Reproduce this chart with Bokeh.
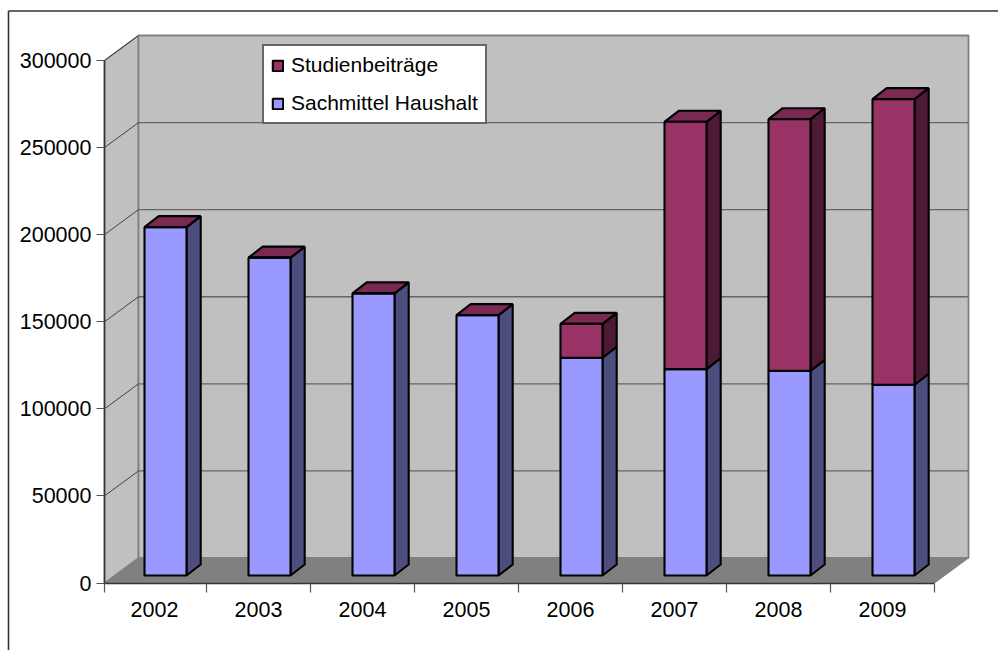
from bokeh.embed import file_html
from bokeh.models import (BasicTickFormatter, FixedTicker, Legend, LegendItem, LinearAxis,
                          Range1d)
from bokeh.plotting import figure
from bokeh.resources import INLINE

years = [2002, 2003, 2004, 2005, 2006, 2007, 2008, 2009]
sachmittel = [200000, 182500, 162000, 149500, 125000, 118500, 117500, 109500]
studienbeitraege = [0, 0, 0, 0, 19500, 142000, 144500, 164000]
value_ticks = [0, 50000, 100000, 150000, 200000, 250000, 300000]

WIDTH, HEIGHT = 998, 650
PX_PER_YEAR = 104.0
PX_PER_VALUE = 522.5 / 300000
YEAR_ORIGIN_PX = 154.0
ZERO_PX = 582.5


def year_at(px):
    return 2002 + (px - YEAR_ORIGIN_PX) / PX_PER_YEAR


def value_at(py):
    return (ZERO_PX - py) / PX_PER_VALUE


def dyear(px):
    return px / PX_PER_YEAR


def dvalue(py):
    return py / PX_PER_VALUE


p = figure(
    width=WIDTH, height=HEIGHT, output_backend="svg", toolbar_location=None,
    x_range=Range1d(year_at(0), year_at(WIDTH)),
    y_range=Range1d(value_at(HEIGHT), value_at(0)),
    x_axis_location=None, y_axis_location=None, min_border=0,
    background_fill_color="white", border_fill_color="white",
)
p.grid.visible = False
p.outline_line_color = None

# 3D walls and floor
x_front_l, x_front_r = year_at(104), year_at(934)
wall_dx, wall_dy = dyear(34), dvalue(25)
top = value_ticks[-1]
p.patch([x_front_l, x_front_l + wall_dx, x_front_l + wall_dx, x_front_l],
        [0, wall_dy, top + wall_dy, top],
        fill_color="#C0C0C0", line_color="#808080", line_width=1.5)
p.quad(left=x_front_l + wall_dx, right=x_front_r + wall_dx, bottom=wall_dy, top=top + wall_dy,
       fill_color="#C0C0C0", line_color="#808080", line_width=1.8)
p.patch([x_front_l, x_front_r, x_front_r + wall_dx, x_front_l + wall_dx],
        [0, 0, wall_dy, wall_dy],
        fill_color="#808080", line_color="#808080", line_width=1)

# Gridlines: along the back wall, then diagonally down the side wall
inner = value_ticks[1:-1]
p.segment(x0=[x_front_l + wall_dx] * len(inner), x1=[x_front_r + wall_dx] * len(inner),
          y0=[v + wall_dy for v in inner], y1=[v + wall_dy for v in inner],
          line_color="#666666", line_width=1.3)
diag = value_ticks[1:]
p.segment(x0=[x_front_l] * len(diag), x1=[x_front_l + wall_dx] * len(diag),
          y0=diag, y1=[v + wall_dy for v in diag],
          line_color="#333333", line_width=0.9)

# Bars: the front face sits a little way into the floor
BAR_SHIFT, BAR_W = dyear(11), dyear(42)
DEPTH_X, DEPTH_Y = dyear(14.2), dvalue(11)
FRONT_Y = dvalue(7.5)
OUTLINE = dict(line_color="black", line_width=2.1)

lefts = [y + BAR_SHIFT - BAR_W / 2 for y in years]
rights = [l + BAR_W for l in lefts]
blue_tops = [FRONT_Y + v for v in sachmittel]
full_tops = [b + v for b, v in zip(blue_tops, studienbeitraege)]


def side_faces(bottoms, tops):
    xs = [[r, r + DEPTH_X, r + DEPTH_X, r] for r in rights]
    ys = [[b, b + DEPTH_Y, t + DEPTH_Y, t] for b, t in zip(bottoms, tops)]
    return xs, ys


xs, ys = side_faces([FRONT_Y] * len(years), blue_tops)
p.patches(xs, ys, fill_color="#4D4D80", **OUTLINE)
xs, ys = side_faces(blue_tops, full_tops)
p.patches(xs, ys, fill_color="#4D1A33", **OUTLINE)
p.patches([[l, r, r + DEPTH_X, l + DEPTH_X] for l, r in zip(lefts, rights)],
          [[t, t, t + DEPTH_Y, t + DEPTH_Y] for t in full_tops],
          fill_color="#7A2952", **OUTLINE)

blue = p.quad(left=lefts, right=rights, bottom=FRONT_Y, top=blue_tops,
              fill_color="#9999FF", **OUTLINE)
maroon = p.quad(left=lefts, right=rights, bottom=blue_tops, top=full_tops,
                fill_color="#993366", **OUTLINE)

# Axes
y_axis = LinearAxis(
    fixed_location=x_front_l, bounds=(0, top), ticker=FixedTicker(ticks=value_ticks),
    formatter=BasicTickFormatter(use_scientific=False),
    axis_line_color="#333333", axis_line_width=1.6,
    major_tick_line_color="#555555", major_tick_line_width=1.2,
    major_tick_out=8, major_tick_in=0, minor_tick_line_color=None,
    major_label_text_font="Liberation Sans", major_label_text_font_size="21.5px",
    major_label_text_color="black", major_label_standoff=5,
)
p.add_layout(y_axis, "left")

tick_px = [104, 206, 310, 414, 518, 622, 726, 830, 934]
x_axis = LinearAxis(
    fixed_location=0, bounds=(x_front_l, x_front_r),
    ticker=FixedTicker(ticks=[year_at(t) for t in tick_px]),
    axis_line_color="#333333", axis_line_width=1.6,
    major_tick_line_color="#555555", major_tick_line_width=1.2,
    major_tick_out=9, major_tick_in=0, minor_tick_line_color=None,
    major_label_text_color=None, major_label_text_font_size="1px",
)
p.add_layout(x_axis, "below")

year_axis = LinearAxis(
    fixed_location=0, ticker=FixedTicker(ticks=years),
    axis_line_color=None, major_tick_line_color=None, minor_tick_line_color=None,
    major_tick_out=0, major_tick_in=0,
    major_label_text_font="Liberation Sans", major_label_text_font_size="21.5px",
    major_label_text_color="black", major_label_standoff=19,
)
p.add_layout(year_axis, "below")

legend = Legend(
    items=[LegendItem(label="Studienbeiträge", renderers=[maroon]),
           LegendItem(label="Sachmittel Haushalt", renderers=[blue])],
    location=(262, HEIGHT - 124),
    orientation="vertical", margin=0, padding=7, spacing=14,
    glyph_width=13, glyph_height=13, label_standoff=7, label_height=24,
    label_text_font="Liberation Sans", label_text_font_size="21px",
    label_text_color="black", background_fill_color="white", background_fill_alpha=1,
    border_line_color="#666666", border_line_width=2, border_line_alpha=1,
)
p.add_layout(legend, "center")

# The chart's outer frame runs off the right and bottom of the page
p.segment(x0=[year_at(8), year_at(8)], y0=[value_at(HEIGHT + 5), value_at(10.5)],
          x1=[year_at(8), year_at(WIDTH + 5)], y1=[value_at(10.5), value_at(10.5)],
          line_color="#333333", line_width=1.6, level="overlay")

open("out.html", "w").write(file_html(p, INLINE))
